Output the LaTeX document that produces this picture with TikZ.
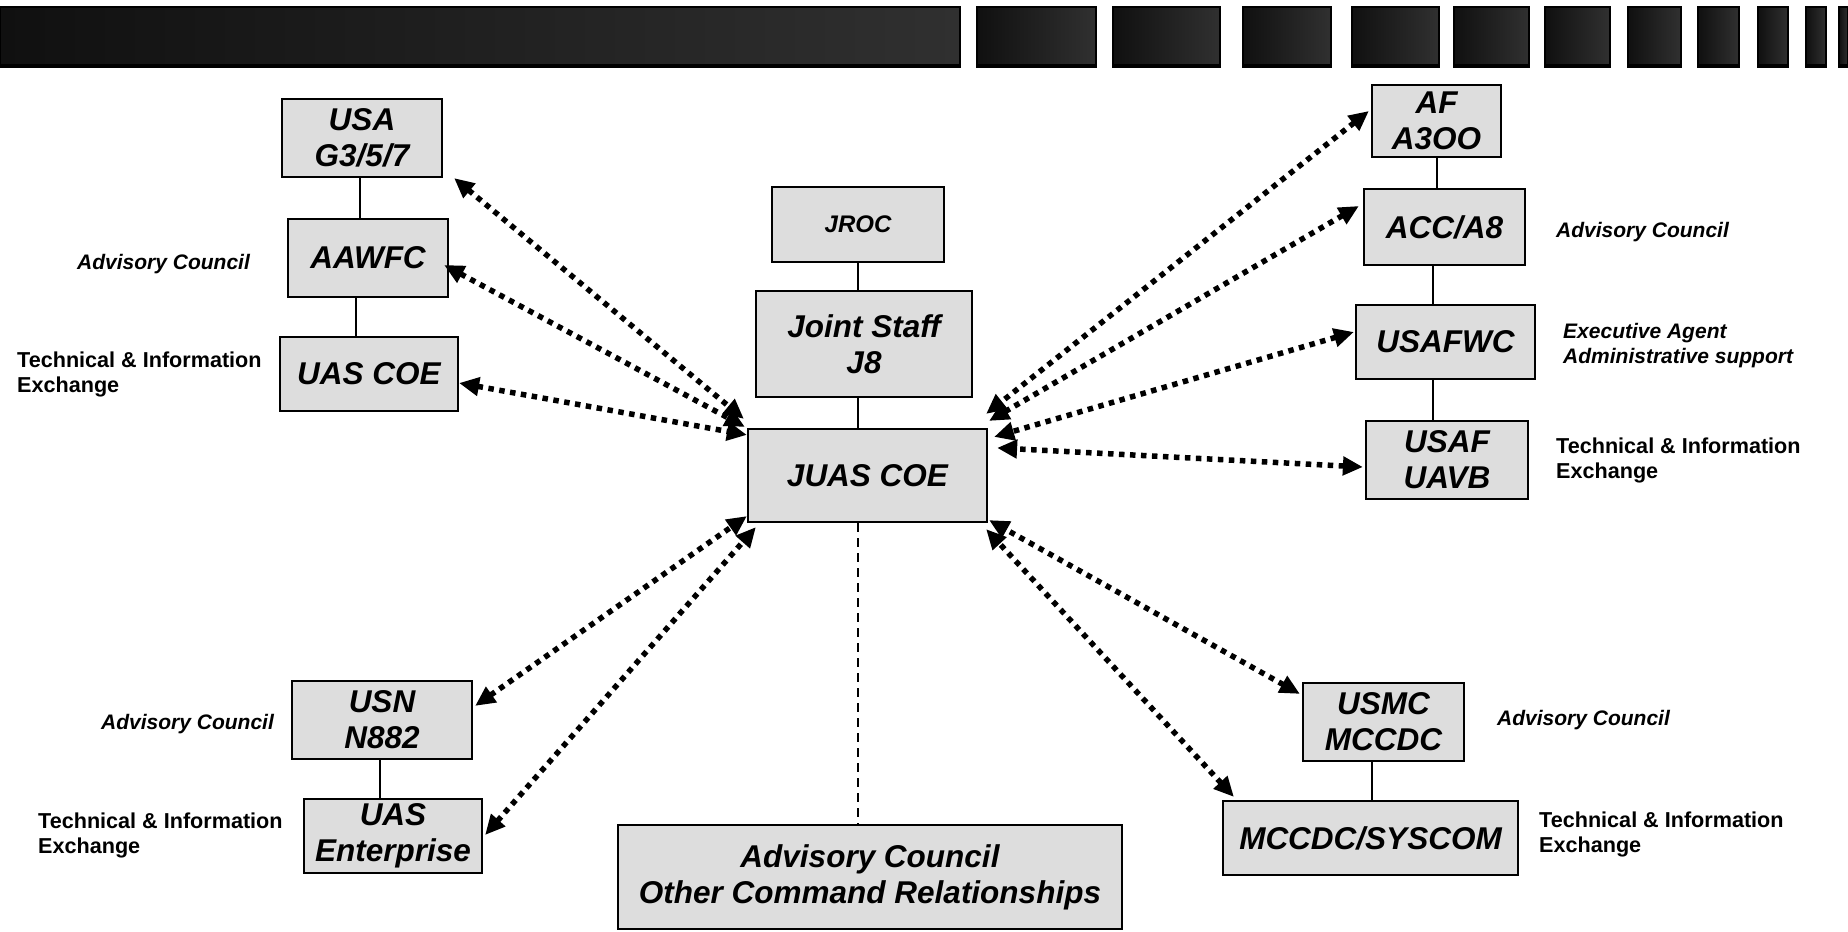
\documentclass[tikz,border=0pt]{standalone}
\usepackage{fontspec}
\setmainfont{Liberation Sans}
\usetikzlibrary{arrows.meta,calc}
\definecolor{boxgray}{HTML}{DDDDDD}
\definecolor{barL}{HTML}{101010}
\definecolor{barR}{HTML}{303030}
\newcommand\nodefontA{\fontsize{31.5}{36}\selectfont\bfseries\itshape}
\newcommand\nodefontS{\fontsize{24}{28}\selectfont\bfseries\itshape}
\newcommand\labfontI{\fontsize{21}{25}\selectfont\bfseries\itshape}
\newcommand\labfontU{\fontsize{21.6}{25}\selectfont\bfseries}
\begin{document}
\begin{tikzpicture}[x=1pt,y=-1pt,
  box/.style={draw=black, fill=boxgray, line width=2.2pt, inner sep=0pt, align=center, font=\nodefontA},
  lab/.style={anchor=west, inner sep=0pt, align=left},
  conn/.style={line width=2pt, draw=black},
  dashconn/.style={line width=2pt, draw=black, dash pattern=on 9pt off 6pt},
  link/.style={line width=5.5pt, draw=black, dash pattern=on 5.5pt off 5.5pt, >={Triangle[length=20pt,width=18pt]}, <->}]
\useasboundingbox (0,0) rectangle (1848,932);
\fill[white] (0,0) rectangle (1848,932);
% top bar
\foreach \a/\b in {0/960,977/1096,1113/1220,1243/1331,1352/1439,1454/1529,1545/1610,1628/1681,1698/1739,1758/1788,1806/1826,1839/1848}{
  \shade[left color=barL, right color=barR] (\a,7) rectangle (\b,67);
  \draw[black, line width=2pt] (\a,7) rectangle (\b,67);
  \draw[black, line width=4pt] (\a,66) -- (\b,66);
}
% nodes
\node[box, minimum width=160, minimum height=78] (usa) at (362,138) {USA\\G3/5/7};
\node[box, minimum width=160, minimum height=78] (aawfc) at (368,258) {AAWFC};
\node[box, minimum width=178, minimum height=74] (uascoe) at (369,374) {UAS COE};
\node[box, minimum width=172, minimum height=75, font=\nodefontS] (jroc) at (858,224.5) {JROC};
\node[box, minimum width=216, minimum height=106] (j8) at (864,344) {Joint Staff\\J8};
\node[box, minimum width=239, minimum height=93] (juas) at (867.5,475.5) {JUAS COE};
\node[box, minimum width=129, minimum height=72] (af) at (1436.5,121) {AF\\A3OO};
\node[box, minimum width=161, minimum height=76] (acc) at (1444.5,227) {ACC/A8};
\node[box, minimum width=179, minimum height=74] (usafwc) at (1445.5,342) {USAFWC};
\node[box, minimum width=162, minimum height=78] (uavb) at (1447,460) {USAF\\UAVB};
\node[box, minimum width=180, minimum height=78] (usn) at (382,720) {USN\\N882};
\node[box, minimum width=178, minimum height=74] (uasent) at (393,836) {UAS\\Enterprise};
\node[box, minimum width=504, minimum height=104] (other) at (870,877) {Advisory Council\\Other Command Relationships};
\node[box, minimum width=161, minimum height=78] (usmc) at (1383.5,722) {USMC\\MCCDC};
\node[box, minimum width=295, minimum height=74] (mccdc) at (1370.5,838) {MCCDC/SYSCOM};
% labels
\node[lab, font=\labfontI] (l1) at (77,264) {Advisory Council};
\node[lab, font=\labfontU] (l2) at (17,374.5) {Technical \& Information\\Exchange};
\node[lab, font=\labfontI] (l3) at (101,724) {Advisory Council};
\node[lab, font=\labfontU] (l4) at (38,835.5) {Technical \& Information\\Exchange};
\node[lab, font=\labfontI] (l5) at (1556,232) {Advisory Council};
\node[lab, font=\labfontI] (l6) at (1563,345.5) {Executive Agent\\Administrative support};
\node[lab, font=\labfontU] (l7) at (1556,460.5) {Technical \& Information\\Exchange};
\node[lab, font=\labfontI] (l8) at (1497,720) {Advisory Council};
\node[lab, font=\labfontU] (l9) at (1539,834.5) {Technical \& Information\\Exchange};
% solid connectors
\draw[conn] ([xshift=-2pt]usa.south) -- ([xshift=-2pt]usa.south |- aawfc.north);
\draw[conn] ([xshift=-12pt]aawfc.south) -- ([xshift=-12pt]aawfc.south |- uascoe.north);
\draw[conn] (jroc.south) -- (jroc.south |- j8.north);
\draw[conn] (jroc.south |- j8.south) -- (jroc.south |- juas.north);
\draw[conn] (af.south) -- (af.south |- acc.north);
\draw[conn] ([xshift=-12pt]acc.south) -- ([xshift=-12pt]acc.south |- usafwc.north);
\draw[conn] ([xshift=-13pt]usafwc.south) -- ([xshift=-13pt]usafwc.south |- uavb.north);
\draw[conn] ([xshift=-2pt]usn.south) -- ([xshift=-2pt]usn.south |- uasent.north);
\draw[conn] ([xshift=-12pt]usmc.south) -- ([xshift=-12pt]usmc.south |- mccdc.north);
\draw[dashconn] ([xshift=-9.5pt]juas.south) -- ([xshift=-9.5pt]juas.south |- other.north);
% dotted double arrows
\draw[link] ($(usa.south east)+(11,0)$) -- ($(juas.north west)+(-3,-9)$);
\draw[link] ($(aawfc.east)+(-5,7)$) -- ($(juas.north west)+(-2,-1)$);
\draw[link] ($(uascoe.east)+(0,9)$) -- ($(juas.north west)+(0,7)$);
\draw[link] ($(usn.north east)+(2,26)$) -- ($(juas.south west)+(0,-7)$);
\draw[link] ($(uasent.east)+(2,-1)$) -- ($(juas.south west)+(9,4)$);
\draw[link] ($(af.west)+(-2,-10)$) -- ($(juas.north east)+(-2,-14)$);
\draw[link] ($(acc.west)+(-4,-21)$) -- ($(juas.north east)+(1,-7)$);
\draw[link] ($(usafwc.west)+(-1,-10)$) -- ($(juas.north east)+(6,9)$);
\draw[link] ($(uavb.west)+(-2,7)$) -- ($(juas.north east)+(9,20)$);
\draw[link] ($(usmc.north west)+(-2,12)$) -- ($(juas.south east)+(1,-3)$);
\draw[link] ($(mccdc.north west)+(12,-3)$) -- ($(juas.south east)+(-2,6)$);
\end{tikzpicture}
\end{document}
